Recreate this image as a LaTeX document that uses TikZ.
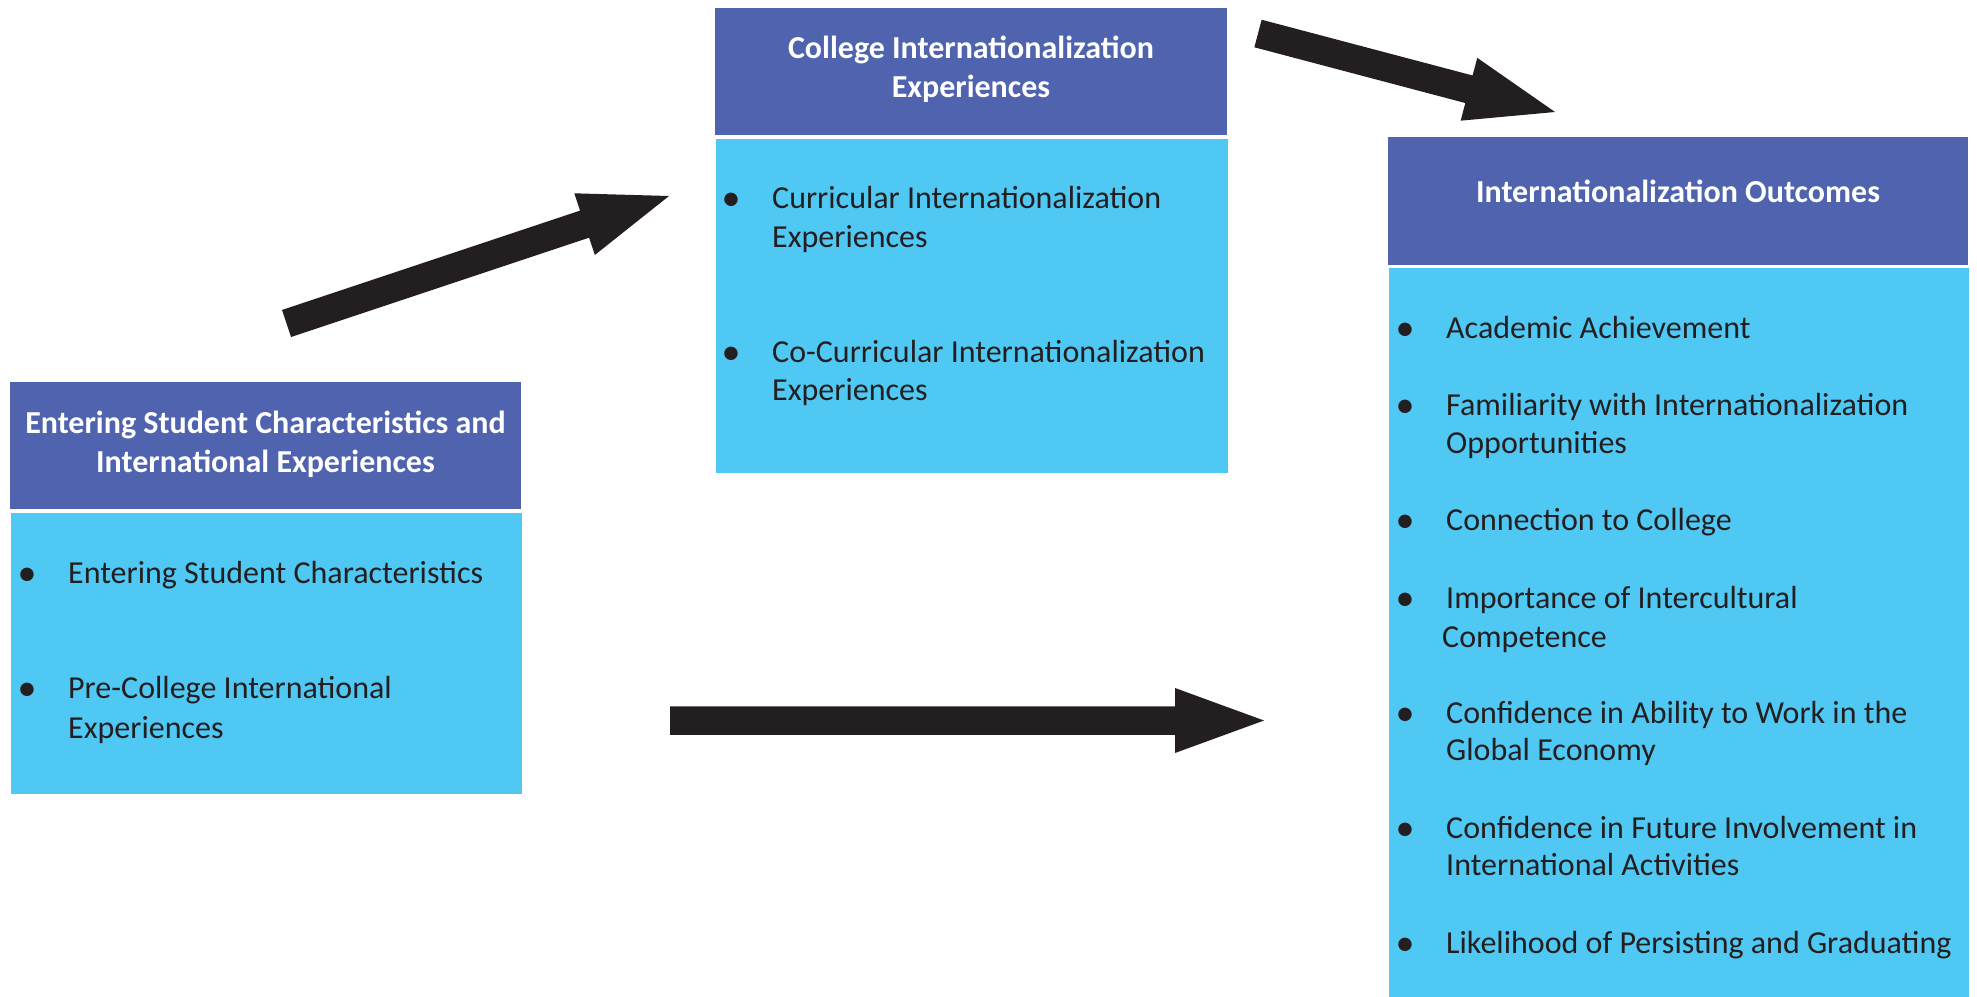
\documentclass[tikz,border=0pt]{standalone}
\usepackage{fontspec}
\setmainfont{Carlito}
\usetikzlibrary{calc}
\definecolor{hdrblue}{RGB}{79,99,174}
\definecolor{bodyblue}{RGB}{79,200,243}
\definecolor{inkdark}{RGB}{35,31,32}
\tikzset{
  hdrbox/.style={rectangle, fill=hdrblue, inner sep=0pt, anchor=north west},
  bodybox/.style={rectangle, fill=bodyblue, inner sep=0pt, anchor=north west},
  htxt/.style={anchor=base, inner sep=0pt, text=white, font=\fontsize{32}{39}\selectfont\bfseries},
  btxt/.style={anchor=base west, inner sep=0pt, text=inkdark, font=\fontsize{32}{39}\selectfont},
  bul/.style={anchor=base, inner sep=0pt, yshift=-2.5pt, text=inkdark, font=\fontsize{38}{39}\selectfont},
  arrowink/.style={fill=inkdark}
}
\newcommand\blockarr[1]{%
  \coordinate (#1b) at ($(#1e)!89pt!(#1s)$);
  \fill[arrowink] ($(#1s)!14.25pt!90:(#1e)$) -- ($(#1b)!14.25pt!90:(#1e)$)
    -- ($(#1b)!32.5pt!90:(#1e)$) -- (#1e) -- ($(#1b)!32.5pt!-90:(#1e)$)
    -- ($(#1b)!14.25pt!-90:(#1e)$) -- ($(#1s)!14.25pt!-90:(#1e)$) -- cycle;}
\begin{document}
\begin{tikzpicture}[x=1pt,y=-1pt]
\useasboundingbox (0,0) rectangle (1977,996);
% boxes
\node[hdrbox, minimum width=511pt, minimum height=127pt] (hdrA) at (10,382) {};
\node[bodybox, minimum width=511pt, minimum height=281pt] (bodyA) at (11,513) {};
\node[hdrbox, minimum width=512pt, minimum height=127pt] (hdrB) at (715,8) {};
\node[bodybox, minimum width=512pt, minimum height=334pt] (bodyB) at (716,139) {};
\node[hdrbox, minimum width=580pt, minimum height=128pt] (hdrC) at (1388,137) {};
\node[bodybox, minimum width=580pt, minimum height=730pt] (bodyC) at (1389,268) {};
% left header & body
\node[htxt] (hA1) at (265.5,433) {Entering Student Characteristics and};
\node[htxt] (hA2) at (265.5,472) {International Experiences};
\node[bul] (bA1) at (27,583) {•};
\node[btxt] (tA1) at (68,583) {Entering Student Characteristics};
\node[bul] (bA2) at (27,698) {•};
\node[btxt] (tA2) at (68,698) {Pre-College International};
\node[btxt] (tA3) at (68,738) {Experiences};
% middle header & body
\node[htxt] (hB1) at (971,58) {College Internationalization};
\node[htxt] (hB2) at (971,97) {Experiences};
\node[bul] (bB1) at (731,208) {•};
\node[btxt] (tB1) at (772,208) {Curricular Internationalization};
\node[btxt] (tB2) at (772,247) {Experiences};
\node[bul] (bB2) at (731,362) {•};
\node[btxt] (tB3) at (772,362) {Co-Curricular Internationalization};
\node[btxt] (tB4) at (772,400) {Experiences};
% right header & body
\node[htxt] (hC1) at (1678,202) {Internationalization Outcomes};
\node[bul] (bC1) at (1405,338) {•};
\node[btxt] (tC1) at (1446,338) {Academic Achievement};
\node[bul] (bC2) at (1405,415) {•};
\node[btxt] (tC2) at (1446,415) {Familiarity with Internationalization};
\node[btxt] (tC3) at (1446,453) {Opportunities};
\node[bul] (bC3) at (1405,530) {•};
\node[btxt] (tC4) at (1446,530) {Connection to College};
\node[bul] (bC4) at (1405,608) {•};
\node[btxt] (tC5) at (1446,608) {Importance of Intercultural};
\node[btxt] (tC6) at (1442,647) {Competence};
\node[bul] (bC5) at (1405,723) {•};
\node[btxt] (tC7) at (1446,723) {Confidence in Ability to Work in the};
\node[btxt] (tC8) at (1446,760) {Global Economy};
\node[bul] (bC6) at (1405,838) {•};
\node[btxt] (tC9) at (1446,838) {Confidence in Future Involvement in};
\node[btxt] (tC10) at (1446,875) {International Activities};
\node[bul] (bC7) at (1405,953) {•};
\node[btxt] (tC11) at (1446,953) {Likelihood of Persisting and Graduating};
% arrows
\coordinate (aAs) at (286.5,323.5); \coordinate (aAe) at (669,196);
\blockarr{aA}
\coordinate (aBs) at (1258,33.5); \coordinate (aBe) at (1555,112);
\blockarr{aB}
\coordinate (aCs) at (670,720.5); \coordinate (aCe) at (1264,720.5);
\blockarr{aC}
\end{tikzpicture}
\end{document}
